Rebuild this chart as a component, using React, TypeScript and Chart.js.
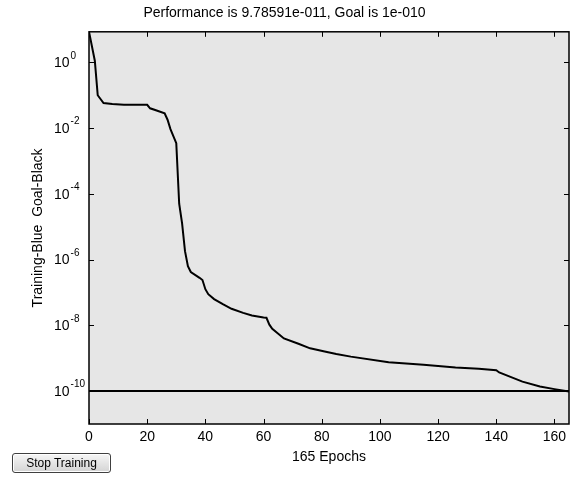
import React, { useEffect, useRef } from "react";
import { Chart, registerables } from "chart.js";

Chart.register(...registerables);

const titleText = "Performance is 9.78591e-011, Goal is 1e-010";
const xTitle = "165 Epochs";
const yTitle = "Training-Blue  Goal-Black";

const epochs = [0, 2, 3, 5, 8, 12, 20, 21, 23, 26, 27, 28, 30, 31, 32, 33, 34, 35, 38, 39, 40, 41, 43, 46, 49, 53, 56, 60, 61, 62, 63, 67, 72, 76, 81, 85, 90, 103, 115, 126, 134, 140, 141, 149, 155, 160, 165];
const perf = [8.5, 1.12, 0.1, 0.058, 0.054, 0.051, 0.051, 0.04, 0.035, 0.028, 0.018, 0.0093, 0.0035, 5.0e-5, 1.26e-5, 1.8e-6, 6.3e-7, 4.2e-7, 2.8e-7, 2.4e-7, 1.26e-7, 8.9e-8, 6.3e-8, 4.4e-8, 3.2e-8, 2.4e-8, 2.0e-8, 1.74e-8, 1.7e-8, 1.05e-8, 7.9e-9, 4.0e-9, 2.75e-9, 2.0e-9, 1.6e-9, 1.35e-9, 1.12e-9, 7.6e-10, 6.3e-10, 5.2e-10, 4.8e-10, 4.3e-10, 3.7e-10, 1.95e-10, 1.38e-10, 1.15e-10, 9.78591e-11];

const goalEpochs = [0, 165];
const goalValues = [1e-10, 1e-10];

const xTicks = [0, 20, 40, 60, 80, 100, 120, 140, 160];
const yTickExponents = [0, -2, -4, -6, -8, -10];
const yMin = 1e-11;

const FONT = "'Liberation Sans', Arial, sans-serif";

const framePlugin = {
  id: "matlabFrame",
  beforeDatasetsDraw(chart: any) {
    const { ctx, chartArea: a } = chart;
    ctx.save();
    ctx.fillStyle = "#e6e6e6";
    ctx.fillRect(a.left, a.top, a.right - a.left, a.bottom - a.top);
    ctx.restore();
  },
  afterDatasetsDraw(chart: any) {
    const { ctx, chartArea: a } = chart;
    const xs = chart.scales.x;
    const ys = chart.scales.y;
    ctx.save();
    ctx.strokeStyle = "#000";
    ctx.lineWidth = 1;
    const tl = 5;
    ctx.beginPath();
    xTicks.forEach((v) => {
      const px = Math.round(xs.getPixelForValue(v)) + 0.5;
      ctx.moveTo(px, a.bottom);
      ctx.lineTo(px, a.bottom - tl);
      ctx.moveTo(px, a.top);
      ctx.lineTo(px, a.top + tl);
    });
    yTickExponents.forEach((e) => {
      const py = Math.round(ys.getPixelForValue(Math.pow(10, e))) + 0.5;
      ctx.moveTo(a.left, py);
      ctx.lineTo(a.left + tl, py);
      ctx.moveTo(a.right, py);
      ctx.lineTo(a.right - tl, py);
    });
    ctx.stroke();
    ctx.lineWidth = 1.5;
    ctx.strokeRect(a.left, a.top, a.right - a.left, a.bottom - a.top);

    // y tick labels with superscript exponents
    ctx.fillStyle = "#000";
    ctx.textBaseline = "middle";
    ctx.textAlign = "left";
    yTickExponents.forEach((e) => {
      const py = ys.getPixelForValue(Math.pow(10, e));
      ctx.font = `14px ${FONT}`;
      const bx = 54;
      ctx.fillText("10", bx, py + 1);
      const w = ctx.measureText("10").width;
      ctx.font = `10px ${FONT}`;
      ctx.fillText(String(e), bx + w + 1, py - 6.5);
    });
    ctx.restore();
  },
};

export default function App() {
  const canvasRef = useRef<HTMLCanvasElement | null>(null);

  useEffect(() => {
    document.body.style.margin = "0";
    const canvas = canvasRef.current;
    if (!canvas) return;
    Chart.defaults.font.family = FONT;
    const chart = new Chart(canvas, {
      type: "line",
      data: {
        datasets: [
          {
            label: "Training",
            data: epochs.map((e, i) => ({ x: e, y: perf[i] })),
            borderColor: "#000",
            borderWidth: 2,
            pointRadius: 0,
            tension: 0,
            fill: false,
          },
          {
            label: "Goal",
            data: goalEpochs.map((e, i) => ({ x: e, y: goalValues[i] })),
            borderColor: "#000",
            borderWidth: 2,
            pointRadius: 0,
            tension: 0,
            fill: false,
          },
        ],
      },
      options: {
        animation: false,
        responsive: false,
        maintainAspectRatio: false,
        layout: { padding: { left: 0, right: 4, top: 0, bottom: 0 } },
        plugins: {
          legend: { display: false },
          tooltip: { enabled: false },
          title: {
            display: true,
            text: titleText,
            color: "#000",
            font: { size: 14, weight: "normal", family: FONT },
            padding: { top: 5, bottom: 10 },
          },
        },
        scales: {
          x: {
            type: "linear",
            min: 0,
            max: 165,
            grid: { display: false, drawTicks: false },
            border: { display: false },
            afterBuildTicks: (s: any) => {
              s.ticks = xTicks.map((v) => ({ value: v }));
            },
            afterFit: (s: any) => {
              s.height = 53;
            },
            ticks: {
              color: "#000",
              font: { size: 14, family: FONT },
              padding: 5,
              autoSkip: false,
              maxRotation: 0,
              minRotation: 0,
            },
            title: {
              display: true,
              text: xTitle,
              color: "#000",
              font: { size: 14, family: FONT },
              padding: { top: 0, bottom: 11.6 },
            },
          },
          y: {
            type: "logarithmic",
            min: yMin,
            max: perf[0],
            grid: { display: false, drawTicks: false },
            border: { display: false },
            afterBuildTicks: (s: any) => {
              s.ticks = yTickExponents.map((e) => ({ value: Math.pow(10, e) }));
            },
            afterFit: (s: any) => {
              s.width = 89;
            },
            ticks: { display: false },
            title: {
              display: true,
              text: yTitle,
              color: "#000",
              font: { size: 14, family: FONT },
              padding: { top: 30, bottom: 0 },
            },
          },
        },
      },
      plugins: [framePlugin],
    });
    return () => chart.destroy();
  }, []);

  return (
    <div style={{ position: "relative", width: 573, height: 477, background: "#fff" }}>
      <canvas ref={canvasRef} width={573} height={477} style={{ display: "block", width: 573, height: 477 }} />
      <button
        style={{
          position: "absolute",
          left: 12,
          top: 453,
          width: 99,
          height: 20,
          padding: 0,
          margin: 0,
          fontFamily: FONT,
          fontSize: 12,
          color: "#000",
          background: "linear-gradient(#f6f6f6, #d4d4d4)",
          border: "1px solid #404040",
          borderRadius: 3,
          boxShadow: "inset 0 0 0 1px #ffffff",
        }}
      >
        Stop Training
      </button>
    </div>
  );
}
